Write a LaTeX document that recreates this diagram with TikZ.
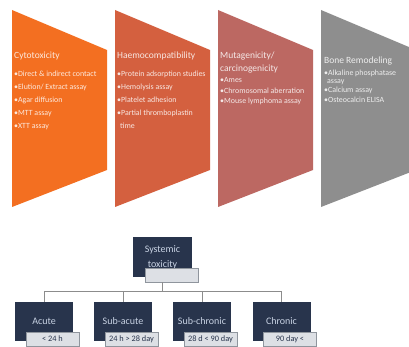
\documentclass[tikz,border=0pt]{standalone}
\usepackage{fontspec}
\setmainfont{Carlito}
\usetikzlibrary{positioning}
\definecolor{cytoc}{HTML}{F36F21}
\definecolor{haemoc}{HTML}{D4603F}
\definecolor{mutac}{HTML}{BC6862}
\definecolor{bonec}{HTML}{8E8E8E}
\definecolor{navy}{HTML}{28344C}
\definecolor{navytxt}{HTML}{C9D3E4}
\definecolor{durf}{HTML}{DDE0E5}
\definecolor{durd}{HTML}{8F959D}
\definecolor{linkc}{HTML}{8C8C8C}

\begin{document}
\begin{tikzpicture}[x=1pt,y=-1pt,
  head/.style={anchor=north west,inner sep=0pt,align=left,text=white,text opacity=.85,font=\fontsize{9.5}{13}\selectfont},
  items/.style={anchor=north west,inner sep=0pt,align=left,text=white,text opacity=.85,font=\fontsize{7.9}{13}\selectfont},
  tox/.style={fill=navy,text=navytxt,minimum width=58pt,minimum height=39pt,inner sep=1pt,align=center,font=\fontsize{10}{15}\selectfont},
  durbox/.style={fill=durf,draw=durd,line width=.8pt,minimum width=53pt,minimum height=14pt,inner sep=0pt,text=navy,font=\fontsize{8.3}{8}\selectfont},
  link/.style={draw=linkc,line width=.8pt}]
  \useasboundingbox (0,0) rectangle (409,347);
  \begin{scope}
  \clip (0,0) rectangle (409,347);
  \fill[cytoc](12,10)--(107,50)--(107,170)--(12,207)--cycle;
  \fill[haemoc](115,10)--(210,50)--(210,170)--(115,207)--cycle;
  \fill[mutac](218,10)--(313,50)--(313,170)--(218,207)--cycle;
  \fill[bonec](321,10)--(416,50)--(416,170)--(321,207)--cycle;
  \end{scope}
  \node[head] (cytoh) at (14,52) {Cytotoxicity};
  \node[items] (cytol) at (14,70.5) {•Direct \& indirect contact\\•Elution/ Extract assay\\•Agar diffusion\\•MTT assay\\•XTT assay};
  \node[head] (haemoh) at (117,52) {Haemocompatibility};
  \node[items] (haemol) at (117,70.5) {•Protein adsorption studies\\•Hemolysis assay\\•Platelet adhesion\\•Partial thromboplastin\\\hspace{3pt}time};
  \node[head] (mutah) at (220,52) {Mutagenicity/\\carcinogenicity};
  \node[items,font=\fontsize{7.9}{10.3}\selectfont] (mutal) at (220,77.5) {•Ames\\•Chromosomal aberration\\•Mouse lymphoma assay};
  \node[head] (boneh) at (324,57) {Bone Remodeling};
  \node[items,font=\fontsize{7.9}{8}\selectfont] (bonel) at (324,69.5) {•Alkaline phosphatase\\\hspace{3pt}assay\\[1.5pt]•Calcium assay\\[1.5pt]•Osteocalcin ELISA};

  \node[tox,minimum width=59pt,minimum height=40pt] (sys) at (162.5,257) {Systemic\\toxicity};
  \node[durbox] (sysd) at (171.5,275) {};
  \node[tox] (acute) at (44,321.5) {Acute};
  \node[tox] (subac) at (123,321.5) {Sub-acute};
  \node[tox] (subch) at (202,321.5) {Sub-chronic};
  \node[tox] (chron) at (281.5,321.5) {Chronic};
  \node[durbox] (acuted) at (52.5,339) {< 24 h};
  \node[durbox] (subacd) at (131.5,339) {24 h > 28 day};
  \node[durbox] (subchd) at (210.5,339) {28 d < 90 day};
  \node[durbox] (chrond) at (290,339) {90 day <};
  \coordinate (busl) at (44,291);
  \coordinate (busr) at (281.5,291);
  \draw[link] (sys.south |- sysd.south)--(sys.south |- busl);
  \draw[link] (busl)--(busr);
  \draw[link] (acute.north |- busl)--(acute.north);
  \draw[link] (subac.north |- busl)--(subac.north);
  \draw[link] (subch.north |- busl)--(subch.north);
  \draw[link] (chron.north |- busl)--(chron.north);
\end{tikzpicture}
\end{document}
